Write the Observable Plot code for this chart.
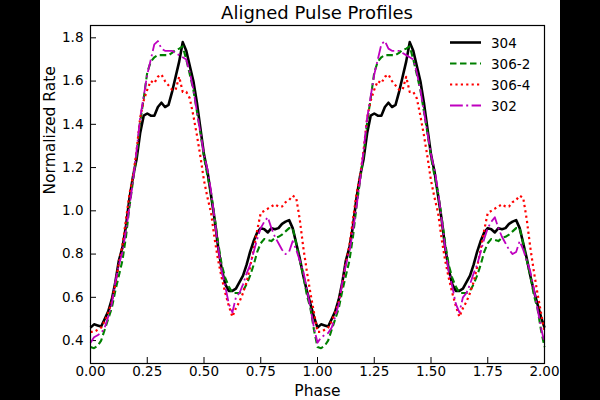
<!DOCTYPE html>
<html>
<head>
<meta charset="utf-8">
<script src="https://cdn.jsdelivr.net/npm/d3@7"></script>
<script src="https://cdn.jsdelivr.net/npm/@observablehq/plot@0.6"></script>
<style>
  html, body { margin: 0; padding: 0; background: #000; }
  #fig { position: absolute; left: 40px; top: 0; width: 520px; height: 400px; background: #fff;
         font-family: "DejaVu Sans", sans-serif; color: #000; overflow: hidden; }
  #title { position: absolute; left: 50px; width: 454px; top: 2px; height: 22px; line-height: 22px;
           text-align: center; font-size: 18px; z-index: 2; }
  #chart { position: absolute; left: 0; top: 22px; }
  #legend { position: absolute; left: 410px; top: 32px; font-size: 13.5px; z-index: 2; }
  .row { display: flex; align-items: center; height: 21px; }
  .row svg { width: 31px; height: 21px; margin-right: 10px; flex: none; }
</style>
</head>
<body>
<div id="fig">
  <div id="title">Aligned Pulse Profiles</div>
  <div id="chart"></div>
  <div id="legend"></div>
</div>
<script>
// Pulse phase of each of the 64 profile bins (one rotation)
const phase = [
  0, 0.015625, 0.03125, 0.046875, 0.0625, 0.078125, 0.09375, 0.109375,
  0.125, 0.140625, 0.15625, 0.171875, 0.1875, 0.203125, 0.21875, 0.234375,
  0.25, 0.265625, 0.28125, 0.296875, 0.3125, 0.328125, 0.34375, 0.359375,
  0.375, 0.390625, 0.40625, 0.421875, 0.4375, 0.453125, 0.46875, 0.484375,
  0.5, 0.515625, 0.53125, 0.546875, 0.5625, 0.578125, 0.59375, 0.609375,
  0.625, 0.640625, 0.65625, 0.671875, 0.6875, 0.703125, 0.71875, 0.734375,
  0.75, 0.765625, 0.78125, 0.796875, 0.8125, 0.828125, 0.84375, 0.859375,
  0.875, 0.890625, 0.90625, 0.921875, 0.9375, 0.953125, 0.96875, 0.984375
];

// Normalized count rate per bin, one array per observation
const rate304 = [
  0.46, 0.475, 0.47, 0.465, 0.50, 0.535, 0.59, 0.67,
  0.77, 0.83, 0.93, 1.06, 1.16, 1.24, 1.36, 1.44,
  1.45, 1.44, 1.44, 1.48, 1.50, 1.48, 1.49, 1.55,
  1.62, 1.69, 1.78, 1.74, 1.67, 1.60, 1.50, 1.38,
  1.26, 1.18, 1.07, 0.96, 0.83, 0.73, 0.66, 0.63,
  0.63, 0.64, 0.67, 0.70, 0.75, 0.81, 0.86, 0.90,
  0.92, 0.915, 0.90, 0.92, 0.915, 0.92, 0.94, 0.95,
  0.957, 0.92, 0.85, 0.78, 0.70, 0.63, 0.57, 0.51
];
const rate306_2 = [
  0.37, 0.365, 0.375, 0.40, 0.45, 0.50, 0.55, 0.63,
  0.70, 0.77, 0.88, 1.02, 1.14, 1.26, 1.41, 1.52,
  1.64, 1.69, 1.71, 1.72, 1.72, 1.72, 1.72, 1.73,
  1.745, 1.75, 1.76, 1.70, 1.63, 1.56, 1.46, 1.36,
  1.25, 1.16, 1.08, 0.97, 0.85, 0.75, 0.69, 0.65,
  0.62, 0.62, 0.62, 0.63, 0.66, 0.70, 0.75, 0.81,
  0.85, 0.87, 0.865, 0.86, 0.875, 0.88, 0.89, 0.905,
  0.92, 0.92, 0.85, 0.77, 0.70, 0.61, 0.55, 0.45
];
const rate306_4 = [
  0.44, 0.44, 0.45, 0.46, 0.49, 0.53, 0.58, 0.66,
  0.76, 0.84, 0.96, 1.08, 1.16, 1.28, 1.43, 1.51,
  1.56, 1.60, 1.59, 1.62, 1.63, 1.60, 1.58, 1.56,
  1.56, 1.62, 1.55, 1.55, 1.52, 1.44, 1.35, 1.25,
  1.14, 1.06, 0.99, 0.87, 0.77, 0.69, 0.62, 0.56,
  0.51, 0.55, 0.58, 0.62, 0.67, 0.74, 0.82, 0.91,
  0.99, 1.00, 1.01, 1.02, 1.03, 1.02, 1.02, 1.04,
  1.05, 1.07, 1.06, 0.96, 0.83, 0.72, 0.62, 0.53
];
const rate302 = [
  0.39, 0.415, 0.425, 0.435, 0.46, 0.51, 0.57, 0.67,
  0.75, 0.81, 0.91, 1.02, 1.14, 1.28, 1.43, 1.53,
  1.63, 1.70, 1.77, 1.785, 1.75, 1.74, 1.74, 1.74,
  1.73, 1.72, 1.71, 1.70, 1.64, 1.56, 1.46, 1.36,
  1.26, 1.19, 1.09, 0.96, 0.83, 0.72, 0.65, 0.57,
  0.53, 0.60, 0.62, 0.66, 0.71, 0.75, 0.81, 0.87,
  0.92, 0.95, 0.97, 0.92, 0.88, 0.85, 0.82, 0.80,
  0.81, 0.86, 0.82, 0.77, 0.72, 0.64, 0.55, 0.46
];

const seriesNames = ["304", "306-2", "306-4", "302"];
const seriesRates = [rate304, rate306_2, rate306_4, rate302];

const xTicks = [0, 0.25, 0.5, 0.75, 1, 1.25, 1.5, 1.75, 2];
const yTicks = [0.4, 0.6, 0.8, 1.0, 1.2, 1.4, 1.6, 1.8];

// Line styles, in series order
const styles = [
  {stroke: "#000000", strokeWidth: 2.6},
  {stroke: "#008000", strokeWidth: 2.1, strokeDasharray: "6.5,3.5"},
  {stroke: "#ff0000", strokeWidth: 2.2, strokeDasharray: "2.2,3.2"},
  {stroke: "#bf00bf", strokeWidth: 1.8, strokeDasharray: "12.8,3.4,2,3.4"}
];

// Each profile is drawn over two rotations (phase 0–2), closed at phase 2
const rows = [];
seriesNames.forEach((name, k) => {
  const r = seriesRates[k];
  for (const cycle of [0, 1]) {
    phase.forEach((p, i) => rows.push({series: name, phase: p + cycle, rate: r[i]}));
  }
  rows.push({series: name, phase: 2, rate: r[0]});
});

const W = 520, H = 378, mL = 50, mR = 16, mT = 3, mB = 37;
const innerW = W - mL - mR, innerH = H - mT - mB;

const lineMarks = seriesNames.map((name, k) =>
  Plot.line(rows.filter(d => d.series === name), {
    x: "phase", y: "rate", strokeLinejoin: "round", strokeLinecap: "butt", ...styles[k]
  })
);

const chart = Plot.plot({
  width: W, height: H,
  marginLeft: mL, marginRight: mR, marginTop: mT, marginBottom: mB,
  style: {fontFamily: "DejaVu Sans", fontSize: "13.5px", background: "transparent", color: "#000"},
  x: {domain: [0, 2]},
  y: {domain: [0.294, 1.857]},
  marks: [
    // inward tick marks on the bottom and left edges
    Plot.tickX(xTicks, {x: d => d, insetTop: innerH - 6, stroke: "#000", strokeWidth: 1}),
    Plot.tickY(yTicks, {y: d => d, insetRight: innerW - 6, stroke: "#000", strokeWidth: 1}),
    Plot.axisX({ticks: xTicks, tickSize: 0, tickPadding: 3, tickFormat: d3.format(".2f"), label: null}),
    Plot.axisY({ticks: yTicks, tickSize: 0, tickPadding: 7, tickFormat: d3.format(".1f"), label: null}),
    ...lineMarks,
    Plot.frame({stroke: "#000", strokeWidth: 1.2}),
    Plot.text(["Phase"], {text: d => d, frameAnchor: "bottom", lineAnchor: "bottom", dy: 32, fontSize: 15.5}),
    Plot.text(["Normalized Rate"], {text: d => d, frameAnchor: "left", rotate: -90, dx: -40, fontSize: 15.5})
  ]
});
document.getElementById("chart").appendChild(chart);

// Legend: line sample + label per series
const legend = d3.select("#legend");
seriesNames.forEach((name, k) => {
  const row = legend.append("div").attr("class", "row");
  const s = styles[k];
  row.append("svg").attr("viewBox", "0 0 31 21")
    .append("line").attr("x1", 0).attr("x2", 31).attr("y1", 10.5).attr("y2", 10.5)
    .attr("stroke", s.stroke).attr("stroke-width", s.strokeWidth)
    .attr("stroke-dasharray", s.strokeDasharray || null);
  row.append("span").text(name);
});
</script>
</body>
</html>
